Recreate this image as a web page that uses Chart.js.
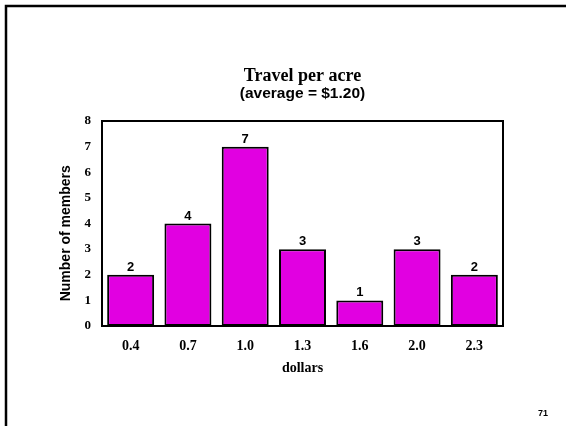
<!DOCTYPE html>
<html>
<head>
<meta charset="utf-8">
<script src="https://cdn.jsdelivr.net/npm/chart.js@4/dist/chart.umd.min.js"></script>
<style>
  html, body { margin: 0; padding: 0; background: #fff; }
  #wrap { width: 566px; height: 426px; }
</style>
</head>
<body>
<div id="wrap"><canvas id="travelChart" width="566" height="426"></canvas></div>
<script>
// data
const dollarLabels = ['0.4', '0.7', '1.0', '1.3', '1.6', '2.0', '2.3'];
const memberCounts = [2, 4, 7, 3, 1, 3, 2];
const yTicks = [0, 1, 2, 3, 4, 5, 6, 7, 8];
const chartTitle = 'Travel per acre';
const chartSubtitle = '(average = $1.20)';
const pageNumber = '71';

const serif = '"Liberation Serif", "Times New Roman", serif';
const sans = '"Liberation Sans", Arial, sans-serif';

Chart.defaults.color = '#000';

// slide frame, titles centred over the plot, box round the plot, page number
const slidePlugin = {
  id: 'slidePlugin',
  beforeDraw(chart) {
    const { ctx, width, height } = chart;
    ctx.save();
    ctx.fillStyle = '#fff';
    ctx.fillRect(0, 0, width, height);
    ctx.strokeStyle = '#000';
    ctx.lineWidth = 2.5;
    ctx.beginPath();
    ctx.moveTo(width, 6);
    ctx.lineTo(6, 6);
    ctx.lineTo(6, height);
    ctx.stroke();
    ctx.restore();
  },
  afterDraw(chart) {
    const { ctx, chartArea: { left, top, right, bottom } } = chart;
    const mid = (left + right) / 2;
    ctx.save();
    ctx.strokeStyle = '#000';
    ctx.lineWidth = 2;
    ctx.strokeRect(left, top, right - left, bottom - top);

    ctx.fillStyle = '#000';
    ctx.textAlign = 'center';
    ctx.textBaseline = 'middle';
    ctx.font = 'bold 18px ' + serif;
    ctx.fillText(chartTitle, mid, 76);
    ctx.font = 'bold 15.5px ' + sans;
    ctx.fillText(chartSubtitle, mid, 94);

    ctx.font = 'bold 9px ' + sans;
    ctx.fillText(pageNumber, 543, 414);
    ctx.restore();
  }
};

// value labels above each bar
const valueLabels = {
  id: 'valueLabels',
  afterDatasetsDraw(chart) {
    const { ctx, data } = chart;
    ctx.save();
    ctx.font = 'bold 13px ' + sans;
    ctx.fillStyle = '#000';
    ctx.textAlign = 'center';
    ctx.textBaseline = 'alphabetic';
    chart.getDatasetMeta(0).data.forEach((bar, i) => {
      ctx.fillText(data.datasets[0].data[i], bar.x, bar.y - 4);
    });
    ctx.restore();
  }
};

new Chart(document.getElementById('travelChart'), {
  type: 'bar',
  data: {
    labels: dollarLabels,
    datasets: [{
      data: memberCounts,
      backgroundColor: '#e100e1',
      borderColor: '#000',
      borderWidth: 2,
      borderSkipped: false,
      barPercentage: 0.82,
      categoryPercentage: 1.0
    }]
  },
  options: {
    responsive: false,
    animation: false,
    layout: { padding: { top: 121, left: 50, right: 63, bottom: 40 } },
    plugins: {
      legend: { display: false },
      tooltip: { enabled: false },
      title: { display: false },
      subtitle: { display: false }
    },
    scales: {
      x: {
        grid: { display: false, drawTicks: false },
        border: { display: false },
        ticks: {
          padding: 12,
          font: { family: serif, size: 14, weight: 'bold' }
        },
        title: {
          display: true,
          text: 'dollars',
          font: { family: serif, size: 14, weight: 'bold' },
          padding: { top: 0, bottom: 9 }
        },
        afterFit(scale) { scale.height = 60; }
      },
      y: {
        min: 0,
        max: 8,
        grid: { display: false, drawTicks: false },
        border: { display: false },
        afterBuildTicks(scale) { scale.ticks = yTicks.map(v => ({ value: v })); },
        ticks: {
          padding: 11,
          font: { family: serif, size: 13, weight: 'bold' }
        },
        title: {
          display: true,
          text: 'Number of members     ',
          font: { family: sans, size: 14, weight: 'bold' },
          padding: { top: 7.6, bottom: 0 }
        },
        afterFit(scale) { scale.width = 52; }
      }
    }
  },
  plugins: [slidePlugin, valueLabels]
});
</script>
</body>
</html>
